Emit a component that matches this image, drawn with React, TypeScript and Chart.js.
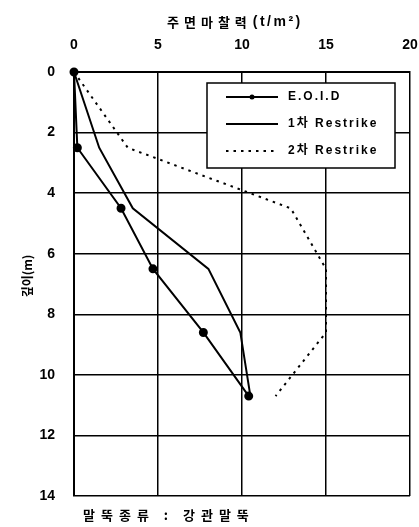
import { useEffect, useRef } from "react";
import { Chart, registerables } from "chart.js";

Chart.register(...registerables);

// ---- data ----
const depths = [0, 2.5, 4.5, 6.5, 8.6, 10.7];
const eoid = [0, 0.2, 2.8, 4.7, 7.7, 10.4];
const restrike1 = [0, 1.5, 3.5, 8.0, 9.9, 10.5];
const restrike2 = [0, 3.2, 12.9, 15.0, 15.0, 12.0];
const seriesLabels = ["E.O.I.D", "1차 Restrike", "2차 Restrike"];
const xTicks = [0, 5, 10, 15, 20];
const yTicks = [0, 2, 4, 6, 8, 10, 12, 14];
const xTitleKr = "주면마찰력";
const xTitleUnit = "(t/m²)";
const yTitle = "깊이(m)";
const footerText = "말뚝종류 : 강관말뚝";

const TICK_FONT = "'Liberation Sans', Arial, sans-serif";
const KR_FONT = "'Noto Sans CJK KR', 'Liberation Sans', sans-serif";

const toPoints = (xs: number[]) => xs.map((x, i) => ({ x, y: depths[i] }));

const decorPlugin = {
  id: "decor",
  afterDraw(chart: any) {
    const ctx = chart.ctx as CanvasRenderingContext2D;
    const { left, right, top, bottom } = chart.chartArea;
    ctx.save();
    ctx.fillStyle = "#000";
    ctx.textBaseline = "middle";

    // x title (top)
    ctx.textAlign = "left";
    ctx.font = `bold 13px ${KR_FONT}`;
    (ctx as any).letterSpacing = "5px";
    const tx = (left + right) / 2 - 75;
    ctx.fillText(xTitleKr, tx, 22);
    const krW = ctx.measureText(xTitleKr).width;
    ctx.font = `bold 14px ${TICK_FONT}`;
    (ctx as any).letterSpacing = "2.5px";
    ctx.fillText(xTitleUnit, tx + krW + 1, 22);

    // y title (rotated)
    ctx.save();
    ctx.font = `bold 12px ${KR_FONT}`;
    (ctx as any).letterSpacing = "0px";
    ctx.translate(27, (top + bottom) / 2 - 8);
    ctx.rotate(-Math.PI / 2);
    ctx.textAlign = "center";
    ctx.fillText(yTitle, 0, 0);
    ctx.restore();

    // footer
    ctx.font = `bold 13px ${KR_FONT}`;
    (ctx as any).letterSpacing = "6px";
    ctx.textAlign = "left";
    ctx.fillText(footerText, left + 9, bottom + 19);

    // legend box
    const bx = left + 133;
    const by = top + 11;
    const bw = 188;
    const bh = 85;
    ctx.fillStyle = "#fff";
    ctx.fillRect(bx, by, bw, bh);
    ctx.strokeStyle = "#000";
    ctx.lineWidth = 1.5;
    ctx.strokeRect(bx, by, bw, bh);

    const rows = [14, 41, 68];
    chart.data.datasets.forEach((ds: any, i: number) => {
      const y = by + rows[i];
      ctx.save();
      ctx.strokeStyle = ds.borderColor;
      ctx.lineWidth = ds.borderWidth;
      ctx.setLineDash(ds.borderDash || []);
      ctx.beginPath();
      ctx.moveTo(bx + 19, y);
      ctx.lineTo(bx + 71, y);
      ctx.stroke();
      ctx.setLineDash([]);
      if (ds.pointRadius > 0) {
        ctx.fillStyle = ds.pointBackgroundColor;
        ctx.beginPath();
        ctx.arc(bx + 45, y, 2.5, 0, Math.PI * 2);
        ctx.fill();
      }
      ctx.fillStyle = "#000";
      ctx.font = `bold 12px ${TICK_FONT}, 'Noto Sans CJK KR'`;
      (ctx as any).letterSpacing = "2px";
      ctx.textAlign = "left";
      ctx.textBaseline = "middle";
      ctx.fillText(ds.label, bx + 81, y);
      ctx.restore();
    });

    ctx.restore();
  },
};

export default function App() {
  const canvasRef = useRef<HTMLCanvasElement | null>(null);

  useEffect(() => {
    const canvas = canvasRef.current;
    if (!canvas) return;
    const chart = new Chart(canvas, {
      type: "scatter",
      data: {
        datasets: [
          {
            label: seriesLabels[0],
            data: toPoints(eoid),
            showLine: true,
            borderColor: "#000",
            backgroundColor: "#000",
            pointBackgroundColor: "#000",
            pointBorderColor: "#000",
            borderWidth: 2,
            pointRadius: 3.5,
            pointHoverRadius: 3.5,
            clip: false,
          },
          {
            label: seriesLabels[1],
            data: toPoints(restrike1),
            showLine: true,
            borderColor: "#000",
            backgroundColor: "#000",
            pointBackgroundColor: "#000",
            borderWidth: 2,
            pointRadius: 0,
            pointHoverRadius: 0,
            clip: false,
          },
          {
            label: seriesLabels[2],
            data: toPoints(restrike2),
            showLine: true,
            borderColor: "#000",
            backgroundColor: "#000",
            pointBackgroundColor: "#000",
            borderWidth: 2,
            borderDash: [2.5, 5],
            pointRadius: 0,
            pointHoverRadius: 0,
            clip: false,
          },
        ],
      },
      options: {
        responsive: false,
        animation: false,
        events: [],
        layout: { padding: { left: 8, right: 9, top: 10, bottom: 31 } },
        plugins: {
          legend: { display: false },
          tooltip: { enabled: false },
        },
        scales: {
          x: {
            type: "linear",
            position: "top",
            min: 0,
            max: 20,
            afterBuildTicks: (s: any) => {
              s.ticks = xTicks.map((v) => ({ value: v }));
            },
            afterFit: (s: any) => {
              s.height = 62;
              s.paddingLeft = 0;
              s.paddingRight = 0;
            },
            ticks: {
              color: "#000",
              font: { family: TICK_FONT, size: 14, weight: "bold" },
              padding: 18,
              maxRotation: 0,
            },
            grid: { color: "#000", lineWidth: 1.5, drawTicks: false },
            border: { display: true, color: "#000", width: 2 },
          },
          y: {
            type: "linear",
            reverse: true,
            min: 0,
            max: 14,
            afterBuildTicks: (s: any) => {
              s.ticks = yTicks.map((v) => ({ value: v }));
            },
            afterFit: (s: any) => {
              s.width = 66;
              s.paddingTop = 0;
              s.paddingBottom = 0;
            },
            ticks: {
              color: "#000",
              font: { family: TICK_FONT, size: 14, weight: "bold" },
              padding: 19,
            },
            grid: { color: "#000", lineWidth: 1.5, drawTicks: false },
            border: { display: true, color: "#000", width: 2 },
          },
        },
      },
      plugins: [decorPlugin],
    } as any);
    return () => chart.destroy();
  }, []);

  return (
    <div
      style={{
        position: "fixed",
        left: 0,
        top: 0,
        width: 419,
        height: 527,
        background: "#fff",
      }}
    >
      <canvas ref={canvasRef} width={419} height={527} />
    </div>
  );
}
